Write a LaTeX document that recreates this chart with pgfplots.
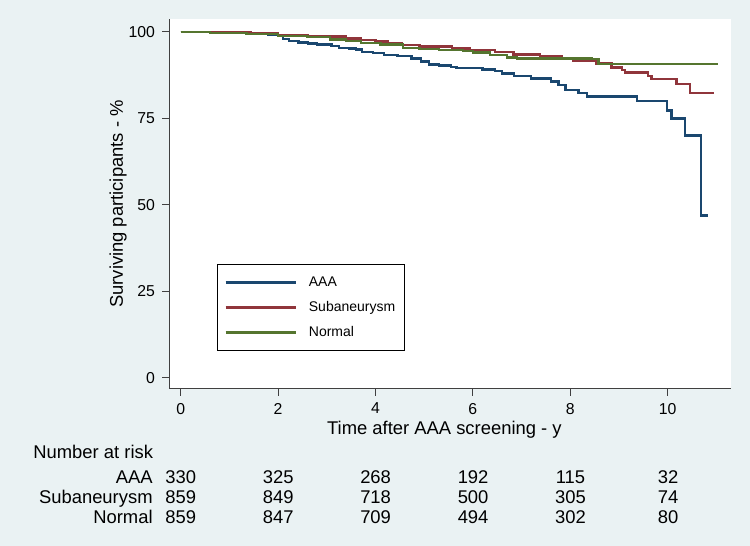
\documentclass[border=0pt]{standalone}
\usepackage{pgfplots}
\pgfplotsset{compat=1.18}
\usepackage{fontspec}
\setmainfont{Liberation Sans}
\definecolor{bgc}{RGB}{234,242,243}
\definecolor{aaa}{RGB}{26,71,111}
\definecolor{sub}{RGB}{144,53,59}
\definecolor{nor}{RGB}{85,117,47}
\newcommand\tabf{\fontsize{9.2}{11}\selectfont}
\begin{document}
\begin{tikzpicture}
\fill[bgc] (0,0) rectangle (375pt,273pt);
\begin{axis}[
  scale only axis, width=281pt, height=185pt,
  at={(84.5pt,78.5pt)}, anchor=south west,
  xmin=-0.24, xmax=11.30, ymin=-3.18, ymax=103.7,
  axis x line*=bottom, axis y line*=left,
  axis line style={black!75, line width=0.5pt, -},
  axis background/.style={fill=white},
  xtick={0,2,...,10}, ytick={0,25,50,75,100},
  tick align=outside, major tick length=3.5pt,
  tick style={black!75, line width=0.5pt},
  /pgf/number format/assume math mode=true,
  ticklabel style={font=\fontsize{7.9}{9}\selectfont},
  xlabel={Time after AAA screening - y},
  ylabel={Surviving participants - \%},
  label style={font=\tabf},
  xlabel style={at={(axis description cs:0.49,-0.111)}, anchor=center},
  ylabel style={at={(axis description cs:-0.0907,0.5)}, anchor=center},
  legend style={at={(0.0854,0.338)}, anchor=north west, draw=black, line width=0.5pt,
    fill=white, font=\fontsize{7}{8}\selectfont, inner xsep=3.5pt, inner ysep=4.5pt,
    row sep=3.5pt, nodes={inner sep=1pt, text height=5.5pt, text depth=1.5pt}},
  legend cell align=left,
  /tikz/every odd column/.append style={column sep=5pt},
  legend image code/.code={\draw[#1] (0pt,0pt) -- (35pt,0pt);},
]
\addplot[const plot, color=aaa, line width=1.2pt] table {
t s
0 100
1.42 99.6
1.80 99.0
2.10 97.9
2.22 97.3
2.42 96.9
2.62 96.6
2.80 96.3
3.10 95.9
3.25 95.4
3.45 95.2
3.60 94.9
3.72 94.2
3.95 93.8
4.18 93.3
4.45 93.0
4.74 92.3
4.93 91.4
5.10 90.6
5.30 90.3
5.55 89.9
5.66 89.6
6.20 89.1
6.45 88.6
6.60 88.0
6.85 87.2
7.19 86.5
7.60 85.6
7.76 84.6
7.90 83.2
8.17 82.4
8.34 81.3
9.37 80.0
9.98 77.3
10.08 74.9
10.35 70.1
10.68 46.9
10.83 46.9
};
\addlegendentry{AAA}
\addplot[const plot, color=sub, line width=1.2pt] table {
t s
0 100
0.80 99.8
1.43 99.5
2.00 99.0
2.60 98.7
3.10 98.6
3.40 98.1
3.70 97.6
4.00 97.2
4.25 96.8
4.53 96.2
4.90 95.7
5.57 95.2
5.94 94.7
6.45 94.2
6.83 93.4
7.38 93.0
7.82 92.3
8.06 91.6
8.54 90.8
8.85 89.7
9.06 88.9
9.12 88.3
9.60 87.2
9.67 86.3
10.18 85.0
10.46 82.4
10.95 82.4
};
\addlegendentry{Subaneurysm}
\addplot[const plot, color=nor, line width=1.2pt] table {
t s
0 100
0.60 99.6
1.35 99.3
2.00 98.8
2.60 98.5
3.07 97.8
3.40 97.4
3.70 96.8
4.10 96.3
4.56 95.4
4.90 95.0
5.30 94.8
5.80 94.5
6.00 94.0
6.35 93.3
6.70 92.6
6.90 92.3
8.45 92.1
8.58 90.7
11.03 90.7
};
\addlegendentry{Normal}
\end{axis}
\begin{scope}[every node/.style={font=\tabf, inner sep=0pt}]
\node[anchor=base west] at (16.5pt,43.7pt) {Number at risk};
\node[anchor=base east] at (76.5pt,31.2pt) {AAA};
\node[anchor=base east] at (76.5pt,21.2pt) {Subaneurysm};
\node[anchor=base east] at (76.5pt,11.2pt) {Normal};
\foreach \x/\a/\b/\c in {90.35/330/859/859, 139.1/325/849/847, 187.8/268/718/709, 236.55/192/500/494, 285.25/115/305/302, 334.0/32/74/80} {
  \node[anchor=base] at (\x pt,31.2pt) {\a};
  \node[anchor=base] at (\x pt,21.2pt) {\b};
  \node[anchor=base] at (\x pt,11.2pt) {\c};
}
\end{scope}
\end{tikzpicture}
\end{document}
